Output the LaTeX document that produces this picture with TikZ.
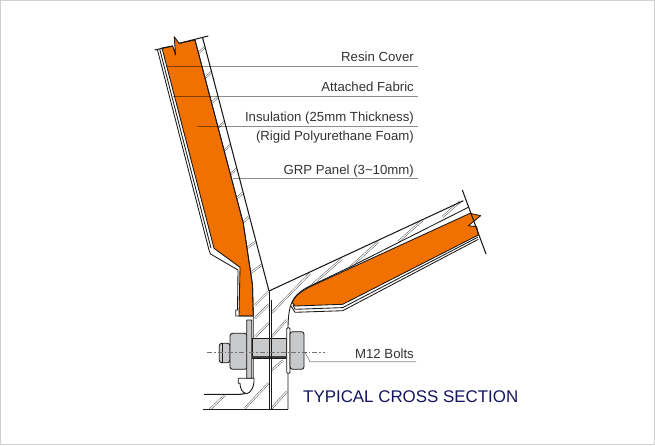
\documentclass[tikz,border=0pt]{standalone}
\usepackage{fontspec}
\setmainfont{Liberation Sans}
\definecolor{insulation}{HTML}{F07000}
\definecolor{steelgray}{HTML}{C8C9CB}
\definecolor{titleblue}{HTML}{14145F}
\begin{document}
\begin{tikzpicture}[x=1pt,y=-1pt,line join=round]
\tikzstyle{outline}=[draw=black!90,line width=.85pt]
\tikzstyle{heavy}=[draw=black!90,line width=1.05pt]
\tikzstyle{hatch}=[draw=black!72,line width=.45pt,double=white,double distance=1.1pt]
\tikzstyle{steel}=[outline,fill=steelgray,rounded corners=2.5pt]
\tikzstyle{leader}=[draw=black,opacity=.45,line width=.7pt]
\tikzstyle{callout}=[anchor=base east,inner sep=0pt,font=\fontsize{13.2}{15}\selectfont,text=black!80]
\useasboundingbox (0,0) rectangle (655,445);
\draw[draw=black!18,line width=1pt] (.5,.5) rectangle (654.5,444.5);
% hatching of the panels
\foreach \ya/\yb in {53/47,78/72,103/97,128/122,151/145,175/169,199/193,223/217}
  \draw[hatch] (195+.258*\ya-10.3,\ya) -- (202.7+.257*\yb-9.8,\yb);
\draw[hatch] (247,248) -- (255,242);
\draw[hatch] (250.5,273) -- (261.5,265);
\foreach \xa/\ya/\xb/\yb in {310/286.7/341.7/259,350/267.3/378/242,398.3/241.7/422.7/220,442.7/216.7/460/201.7,
  271.7/312.7/310/273.3,271.7/336.7/286.7/320,271.7/370/282.7/360.7,271.7/408.3/286.7/391.7,
  255/305/269/291,255/318.3/269/304.3,255/336.7/269/322.7,245/408.3/268.3/383.3,210/409.3/225/395}
  \draw[hatch] (\xa,\ya) -- (\xb,\yb);
% insulation
\path[outline,fill=insulation] (162,48) -- (172.7,46) -- (175.5,55) -- (174.3,36.7) -- (179,43.3) -- (195,40)
  -- (243.3,223.3) -- (252.5,285) -- (253.3,316) -- (239,316) -- (240,267.3) -- (214,248.3) -- cycle;
\path[outline,fill=insulation] (470,213.3) -- (480.7,215.7) -- (473.3,221.7) -- (468.3,225.7) -- (476.7,226.7) -- (478.3,235)
  -- (342.7,304.3) -- (295,306) -- (292.5,303) .. controls (293,297) and (302,291) .. (310,286.7) -- cycle;
% left panel
\draw[heavy] (154.7,50) -- (172.7,46);
\draw[heavy] (179,43.3) -- (208.3,36);
\draw[heavy] (202.7,38) -- (269,291);
\draw[outline] (195,40) -- (243.3,223.3) -- (252.5,285) -- (253.3,316) -- (253.3,380);
\draw[outline] (157.5,50) -- (209,250) -- (210.5,254) -- (238,270) -- (237.5,310) -- (235.7,310) -- (235.7,316) -- (253.3,316);
\draw[outline] (159.8,49.5) -- (211,248);
% upper panel
\draw[heavy] (269,291) -- (463.3,200.7);
\draw[heavy] (462.3,190) -- (486,254);
\draw[outline] (288,409.3) -- (288,330) .. controls (288,305) and (292,296) .. (306,288) -- (350,267) -- (468.3,207.3);
\draw[outline] (291,306) -- (295,312.3) -- (342.7,310.7) -- (478.3,239.3);
\draw[outline] (293,305) -- (295,309.3) -- (342.7,307.6) -- (477.8,237.2);
% wall and base
\draw[outline] (269,291) -- (269,409.3);
\draw[outline] (271.7,300) -- (271.7,409.3);
\draw[heavy] (203.3,409.3) -- (288,409.3);
\draw[heavy] (204,394.3) -- (240,394.3) .. controls (245,394.3) and (250,392) .. (253.3,385);
% seal
\draw[outline,fill=white] (238.3,378.3) -- (254,378.3) .. controls (254.5,388) and (250,393) .. (246.7,393.7)
  .. controls (242,393) and (240,388) .. (240,383.3) -- (238.3,383.3) -- cycle;
% bolt
\draw[steel,rounded corners=0pt] (252.3,338.3) rectangle (286.7,358.3);
\draw[line width=1.4pt,draw=black!75] (252.3,356.8) -- (286.7,356.8);
\draw[steel] (219.3,343.3) rectangle (230,362.7);
\draw[outline] (222.5,343.3) -- (222.5,362.7);
\draw[steel] (230,333.3) rectangle (247,369.3);
\draw[steel,rounded corners=.5pt] (246.7,320) -- (251.7,320) -- (251.7,378.3) -- (246.7,378.3) -- cycle;
\draw[outline,fill=white,rounded corners=1pt] (286.7,327.7) rectangle (290,373.3);
\draw[steel] (290,331.7) rectangle (304,369.3);
\draw[outline] (269,338.3) -- (269,358.3) (271.7,338.3) -- (271.7,358.3);
\draw[draw=black!55,line width=.5pt,dash pattern=on 5pt off 2pt on 1.5pt off 2pt] (207,352.3) -- (325,352.3);
% callouts
\draw[leader] (166.7,66.7) -- (417.7,66.7);
\draw[leader] (173,96) -- (417.7,96);
\draw[leader] (196.7,126) -- (417.7,126);
\draw[leader] (233,178.7) -- (417.7,178.7);
\draw[leader] (305,352.3) -- (310,361.7) -- (416,361.7);
\node[callout] (resin) at (414,61.7) {Resin Cover};
\node[callout] (fabric) at (414,91.7) {Attached Fabric};
\node[callout] (foam) at (414,121) {Insulation (25mm Thickness)};
\node[callout] (rigid) at (414,140) {(Rigid Polyurethane Foam)};
\node[callout] (panel) at (414,174) {GRP Panel (3\textasciitilde10mm)};
\node[callout] (bolts) at (414,358) {M12 Bolts};
\node[anchor=base west,inner sep=0pt,font=\fontsize{16.9}{20}\selectfont,text=titleblue] (caption) at (303,402) {TYPICAL CROSS SECTION};
\end{tikzpicture}
\end{document}
